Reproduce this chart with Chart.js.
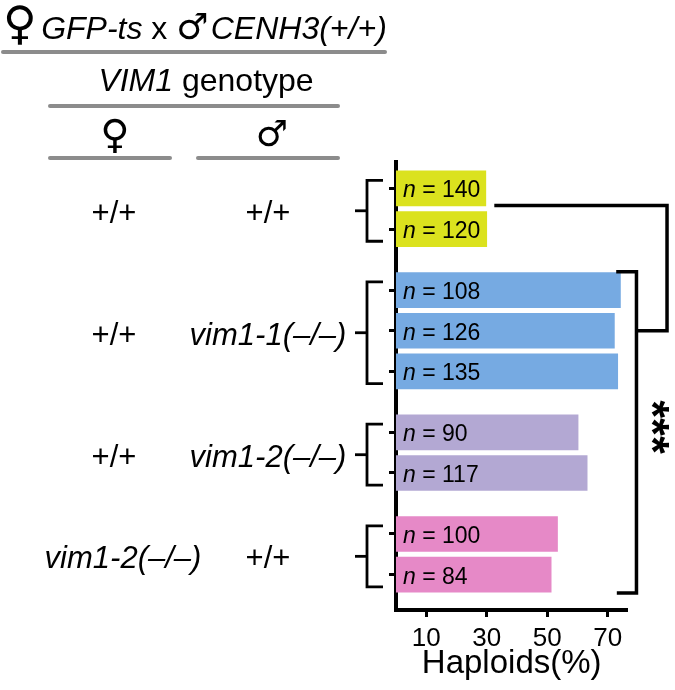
<!DOCTYPE html>
<html>
<head>
<meta charset="utf-8">
<script src="https://cdn.jsdelivr.net/npm/chart.js@4"></script>
<style>
html, body { margin: 0; padding: 0; background: #fff; }
</style>
</head>
<body>
<canvas id="myChart" width="675" height="690"></canvas>
<script>
// genotype of each cross (one entry per group of bars)
var femaleGenotype = ["+/+", "+/+", "+/+", "vim1-2(–/–)"];
var maleGenotype = ["+/+", "vim1-1(–/–)", "vim1-2(–/–)", "+/+"];

// one entry per bar, top to bottom
var barGroup = [0, 0, 1, 1, 1, 2, 2, 3, 3];
var haploids = [29.7, 30.0, 74.2, 72.2, 73.3, 60.2, 63.2, 53.4, 51.3];
var sampleSize = [140, 120, 108, 126, 135, 90, 117, 100, 84];

var xTicks = [10, 30, 50, 70];
var groupColors = ["#dbe21e", "#76aae2", "#b3a8d3", "#e689c7"];

// bars inside a group are 1 apart, groups get an extra half step
var barPos = barGroup.map(function(g, i){ return i + 0.5 * g; });

var SANS = "'Liberation Sans', Arial, sans-serif";
var SYM = "'DejaVu Sans', sans-serif";

function groupPositions(g){
    return barPos.filter(function(p, i){ return barGroup[i] == g; });
}

// draw a row of text pieces with different fonts
function drawRuns(c, runs, x, y, align){
    var total = 0;
    runs.forEach(function(r){ c.font = r[1]; total += c.measureText(r[0]).width; });
    var cx = x;
    if(align == "center") cx = x - total / 2;
    c.textAlign = "left";
    runs.forEach(function(r){
        c.font = r[1];
        c.fillText(r[0], cx, y);
        cx += c.measureText(r[0]).width;
    });
}

function line(c, x1, y1, x2, y2){
    c.beginPath();
    c.moveTo(x1, y1);
    c.lineTo(x2, y2);
    c.stroke();
}

var extras = {
    id: "extras",
    afterDraw: function(chart){
        var c = chart.ctx;
        var xs = chart.scales.x, ys = chart.scales.y;
        c.save();
        c.fillStyle = "#000";
        c.textBaseline = "alphabetic";

        // header
        drawRuns(c, [
            ["♀", "46px " + SYM],
            [" ", "16px " + SANS],
            ["GFP-ts", "italic 32px " + SANS],
            [" x ", "32px " + SANS],
            ["♂", "36px " + SYM],
            [" ", "8px " + SANS],
            ["CENH3(+/+)", "italic 32px " + SANS]
        ], 3, 39, "left");
        drawRuns(c, [["VIM1", "italic 32px " + SANS], [" genotype", "32px " + SANS]], 206, 91, "center");
        c.textAlign = "center";
        c.font = "40px " + SYM;
        c.fillText("♀", 115, 148);
        c.font = "36px " + SYM;
        c.fillText("♂", 272, 146);

        c.strokeStyle = "#8c8c8c";
        c.lineWidth = 4;
        c.lineCap = "round";
        line(c, 3, 52, 385, 52);
        line(c, 50, 106, 338, 106);
        line(c, 50, 158, 170, 158);
        line(c, 198, 158, 338, 158);

        // genotype labels and brackets
        c.strokeStyle = "#000";
        c.lineWidth = 2.8;
        c.lineCap = "butt";
        for(var g = 0; g < femaleGenotype.length; g++){
            var ps = groupPositions(g);
            var top = ys.getPixelForValue(ps[0] - 0.2);
            var bot = ys.getPixelForValue(ps[ps.length - 1] + 0.3);
            var mid = ys.getPixelForValue((ps[0] + ps[ps.length - 1]) / 2 + 0.05);
            c.beginPath();
            c.moveTo(383, top);
            c.lineTo(367, top);
            c.lineTo(367, bot);
            c.lineTo(383, bot);
            c.stroke();
            line(c, 355, mid, 367, mid);

            c.textAlign = "center";
            var f = femaleGenotype[g], m = maleGenotype[g];
            c.font = (f.indexOf("vim") == 0 ? "italic " : "") + "31px " + SANS;
            c.fillText(f, f.indexOf("vim") == 0 ? 123 : 114, mid + 12);
            c.font = (m.indexOf("vim") == 0 ? "italic " : "") + "31px " + SANS;
            c.fillText(m, 268, mid + 12);
        }

        // n labels inside bars
        var x0 = xs.getPixelForValue(0);
        barPos.forEach(function(p, i){
            var y = ys.getPixelForValue(p) + 9;
            drawRuns(c, [["n", "italic 23px " + SANS], [" = " + sampleSize[i], "23px " + SANS]], x0 + 7, y, "left");
        });

        // significance brackets
        c.lineWidth = 3.5;
        c.lineJoin = "miter";
        c.beginPath();
        c.moveTo(xs.getPixelForValue(32.5), ys.getPixelForValue(0.42));
        c.lineTo(xs.getPixelForValue(89.6), ys.getPixelForValue(0.42));
        c.lineTo(xs.getPixelForValue(89.6), ys.getPixelForValue(3.5));
        c.lineTo(xs.getPixelForValue(79.5), ys.getPixelForValue(3.5));
        c.stroke();
        c.beginPath();
        c.moveTo(xs.getPixelForValue(72.8), ys.getPixelForValue(2.05));
        c.lineTo(xs.getPixelForValue(79.5), ys.getPixelForValue(2.05));
        c.lineTo(xs.getPixelForValue(79.5), ys.getPixelForValue(9.95));
        c.lineTo(xs.getPixelForValue(73), ys.getPixelForValue(9.95));
        c.stroke();

        c.translate(xs.getPixelForValue(87.7), ys.getPixelForValue(5.87));
        c.rotate(Math.PI / 2);
        c.textAlign = "center";
        c.textBaseline = "middle";
        c.font = "bold 46px " + SANS;
        c.fillText("***", 0, 12);
        c.restore();
    }
};

var ctx = document.getElementById("myChart").getContext("2d");

var myChart = new Chart(ctx, {
    type: "bar",
    data: {
        datasets: [{
            data: haploids.map(function(v, i){ return {x: v, y: barPos[i]}; }),
            backgroundColor: barGroup.map(function(g){ return groupColors[g]; }),
            barThickness: 35
        }]
    },
    options: {
        indexAxis: "y",
        responsive: false,
        animation: false,
        layout: { padding: { left: 396, top: 162, right: 47.6, bottom: 0 } },
        plugins: { legend: { display: false }, tooltip: { enabled: false } },
        scales: {
            x: {
                type: "linear",
                min: 0,
                max: 76.5,
                afterBuildTicks: function(scale){
                    scale.ticks = xTicks.map(function(v){ return {value: v}; });
                },
                afterFit: function(scale){ scale.height = 80; },
                grid: { drawOnChartArea: false, tickLength: 7, tickWidth: 3, tickColor: "#000" },
                border: { display: true, color: "#000", width: 4 },
                ticks: { color: "#000", padding: 6, font: { family: SANS, size: 26 } },
                title: { display: true, text: "Haploids(%)", color: "#000", padding: { top: 0, bottom: 6 }, font: { family: SANS, size: 33 } }
            },
            y: {
                type: "linear",
                reverse: true,
                offset: false,
                min: -0.65,
                max: 10.37,
                afterBuildTicks: function(scale){
                    scale.ticks = barPos.map(function(v){ return {value: v}; });
                },
                afterFit: function(scale){ scale.width = 0; },
                grid: { offset: false, drawOnChartArea: false, tickLength: 7, tickWidth: 3, tickColor: "#000" },
                border: { display: true, color: "#000", width: 4 },
                ticks: { display: false }
            }
        }
    },
    plugins: [extras]
});
</script>
</body>
</html>
